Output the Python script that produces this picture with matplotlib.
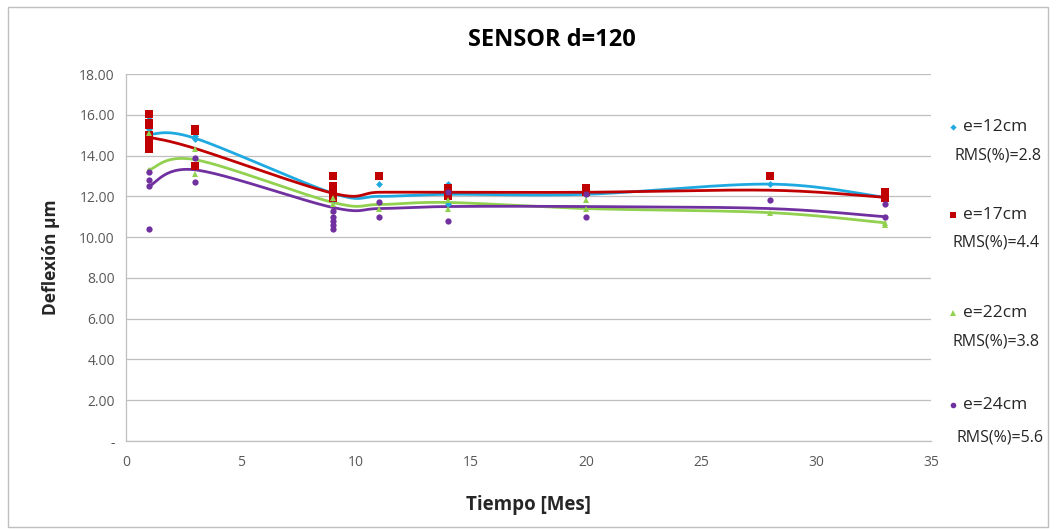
import numpy as np
import matplotlib
matplotlib.use("Agg")
import matplotlib.pyplot as plt
from matplotlib.lines import Line2D
from matplotlib.patches import Rectangle

plt.rcParams['font.family'] = ['Open Sans', 'DejaVu Sans']

# ---- data ----
months = [1, 3, 9, 11, 14, 20, 28, 33]

line_e12 = [15.05, 14.85, 12.15, 12.0, 12.1, 12.1, 12.6, 11.95]
line_e17 = [14.9, 14.35, 12.15, 12.2, 12.2, 12.2, 12.3, 11.95]
line_e22 = [13.3, 13.8, 11.7, 11.6, 11.7, 11.4, 11.2, 10.7]
line_e24 = [12.5, 13.3, 11.45, 11.4, 11.5, 11.5, 11.4, 11.0]

pts_e12_x = [1, 1, 1, 3, 3, 9, 9, 11, 14, 14, 20, 28, 33]
pts_e12_y = [15.8, 15.3, 15.05, 14.95, 14.8, 12.1, 11.8, 12.6, 12.6, 11.6, 12.1, 12.6, 11.9]
pts_e17_x = [1, 1, 1, 1, 1, 1, 1, 3, 3, 3, 9, 9, 9, 9, 11, 14, 14, 14, 20, 20, 28, 33, 33]
pts_e17_y = [16.05, 15.6, 15.5, 15.0, 14.9, 14.5, 14.3, 15.3, 15.2, 13.5, 13.0, 12.5, 12.3, 11.9,
             13.0, 12.4, 12.2, 12.0, 12.4, 12.2, 13.0, 12.2, 11.9]
pts_e22_x = [1, 1, 3, 3, 9, 9, 9, 11, 14, 14, 20, 20, 28, 33, 33]
pts_e22_y = [15.1, 13.3, 14.3, 13.1, 11.9, 11.6, 11.3, 11.4, 11.8, 11.4, 11.8, 11.4, 11.2, 10.7, 10.6]
pts_e24_x = [1, 1, 1, 1, 3, 3, 9, 9, 9, 9, 9, 11, 11, 14, 14, 20, 20, 28, 33, 33]
pts_e24_y = [13.2, 12.8, 12.5, 10.4, 13.9, 12.7, 11.3, 11.0, 10.8, 10.6, 10.4, 11.7, 11.0,
             12.2, 10.8, 12.1, 11.0, 11.8, 11.6, 11.0]

labels = ["e=12cm", "e=17cm", "e=22cm", "e=24cm"]
rms_labels = ["RMS(%)=2.8", "RMS(%)=4.4", "RMS(%)=3.8", "RMS(%)=5.6"]
yticks = [0, 2, 4, 6, 8, 10, 12, 14, 16, 18]
xticks = [0, 5, 10, 15, 20, 25, 30, 35]

colors = ["#1FA9E1", "#C00000", "#92D050", "#7030A0"]
markers = ["D", "s", "^", "o"]
msizes = [3.5, 5.5, 4.5, 4.5]


def smooth(xs, ys, n=30):
    """Excel-style smoothed line (cubic Bezier through the points)."""
    P = np.column_stack([xs, ys]).astype(float)
    out = []
    m = len(P)
    for i in range(m - 1):
        p0 = P[i - 1] if i > 0 else P[i]
        p1 = P[i]
        p2 = P[i + 1]
        p3 = P[i + 2] if i + 2 < m else P[i + 1]
        c1 = p1 + (p2 - p0) / 6.0
        c2 = p2 - (p3 - p1) / 6.0
        t = np.linspace(0, 1, n)[:, None]
        seg = ((1 - t) ** 3) * p1 + 3 * ((1 - t) ** 2) * t * c1 + 3 * (1 - t) * t ** 2 * c2 + t ** 3 * p2
        out.append(seg if i == 0 else seg[1:])
    arr = np.vstack(out)
    return arr[:, 0], arr[:, 1]


fig = plt.figure(figsize=(10.56, 5.29), dpi=100)
fig.patch.set_facecolor("white")
fig.add_artist(Rectangle((8 / 1056, 2 / 529), 1040 / 1056, 520 / 529, transform=fig.transFigure,
                         fill=False, edgecolor="#BFBFBF", linewidth=1.0))

ax = fig.add_axes([126 / 1056, 1 - 441 / 529, (931 - 126) / 1056, (441 - 74) / 529])

lines = [line_e12, line_e17, line_e22, line_e24]
pts = [(pts_e12_x, pts_e12_y), (pts_e17_x, pts_e17_y), (pts_e22_x, pts_e22_y), (pts_e24_x, pts_e24_y)]

for k in range(4):
    sx, sy = smooth(months, lines[k])
    ax.plot(sx, sy, color=colors[k], linewidth=2.0, zorder=3)
for k in range(4):
    ax.plot(pts[k][0], pts[k][1], linestyle="none", marker=markers[k], markersize=msizes[k],
            color=colors[k], markeredgewidth=0, zorder=4)

ax.set_xlim(0, 35)
ax.set_ylim(0, 18)
ax.set_xticks(xticks)
ax.set_yticks(yticks)
ax.set_yticklabels(["-" if v == 0 else f"{v:.2f}" for v in yticks])
ax.set_xticklabels([str(v) for v in xticks])
ax.grid(axis="y", color="#BFBFBF", linewidth=0.9)
ax.set_axisbelow(True)
for s in ["top", "right"]:
    ax.spines[s].set_visible(False)
for s in ["left", "bottom"]:
    ax.spines[s].set_color("#BFBFBF")
    ax.spines[s].set_linewidth(0.9)
ax.tick_params(axis="both", length=0, labelsize=10, colors="#595959", pad=8)
ax.tick_params(axis="x", pad=10)

ax.set_xlabel("Tiempo [Mes]", fontsize=13.5, fontweight="bold", color="#262626", labelpad=18)
ax.set_ylabel("Deflexión µm", fontsize=12.5, fontweight="bold", color="#262626", labelpad=14)
fig.text(552 / 1056, 1 - 40 / 529, "SENSOR d=120", ha="center", va="center",
         fontsize=17, fontweight="bold", color="#000000")

# legend (manual, outside the plot area)
entry_y = [127, 215, 313, 405]
rms_y = [155, 243, 341, 437]
rms_x = [955, 952, 952, 956]
for k in range(4):
    fig.add_artist(Line2D([953 / 1056], [1 - entry_y[k] / 529], transform=fig.transFigure,
                          marker=markers[k], markersize=msizes[k] * 0.9, color=colors[k],
                          markeredgewidth=0, linestyle="none"))
    fig.text(963 / 1056, 1 - entry_y[k] / 529, labels[k], ha="left", va="center",
             fontsize=12.5, color="#262626")
    fig.text(rms_x[k] / 1056, 1 - rms_y[k] / 529, rms_labels[k], ha="left", va="center",
             fontsize=11.5, color="#262626")

fig.savefig("out.png", dpi=100, facecolor="white")
